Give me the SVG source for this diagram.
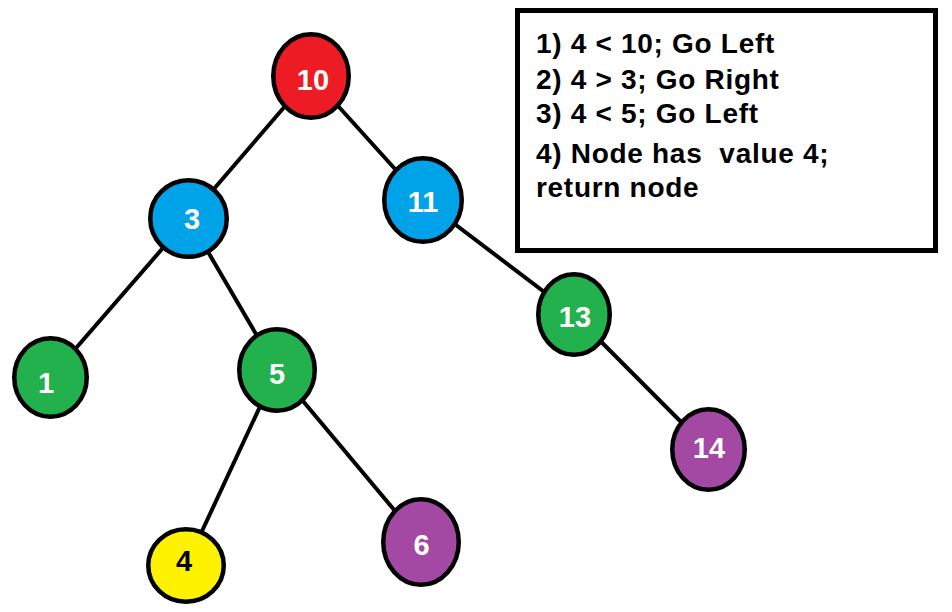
<svg xmlns="http://www.w3.org/2000/svg" width="952" height="612" viewBox="0 0 952 612">
  <style>
    .edge { stroke: #000; stroke-width: 4; }
    .node { stroke: #000; stroke-width: 4.5; }
    .red { fill: #ED1C24; }
    .blue { fill: #00A2E8; }
    .green { fill: #22B14C; }
    .purple { fill: #A349A4; }
    .yellow { fill: #FFF200; }
    .label { font-family: "Liberation Sans", Arial, sans-serif; font-weight: bold; font-size: 29px; fill: #fff; text-anchor: middle; }
    .dark { fill: #000; }
    .note { font-family: "Liberation Sans", Arial, sans-serif; font-weight: bold; font-size: 28px; fill: #000; letter-spacing: 0.7px; }
  </style>
  <rect width="952" height="612" fill="#fff"/>

  <!-- tree edges -->
  <g id="edges">
    <line class="edge" x1="311" y1="76" x2="188.5" y2="218.5"/>
    <line class="edge" x1="311" y1="76" x2="423" y2="200"/>
    <line class="edge" x1="188.5" y1="218.5" x2="50.5" y2="377.5"/>
    <line class="edge" x1="188.5" y1="218.5" x2="277" y2="370"/>
    <line class="edge" x1="423" y1="200" x2="574" y2="314.5"/>
    <line class="edge" x1="277" y1="370" x2="186" y2="565.5"/>
    <line class="edge" x1="277" y1="370" x2="421" y2="542"/>
    <line class="edge" x1="574" y1="314.5" x2="708.5" y2="449.5"/>
  </g>

  <g id="n10">
    <ellipse class="node red" cx="311" cy="76" rx="37.75" ry="41.75"/>
    <text class="label" x="313" y="89.5">10</text>
  </g>
  <g id="n3">
    <ellipse class="node blue" cx="188.5" cy="218.5" rx="38.25" ry="38.25"/>
    <text class="label" x="192" y="228.5">3</text>
  </g>
  <g id="n11">
    <ellipse class="node blue" cx="423" cy="200" rx="38.75" ry="41.75"/>
    <text class="label" x="423" y="211.5">11</text>
  </g>
  <g id="n1">
    <ellipse class="node green" cx="50.5" cy="377.5" rx="36.25" ry="39.25"/>
    <text class="label" x="46" y="392.5">1</text>
  </g>
  <g id="n5">
    <ellipse class="node green" cx="277" cy="370" rx="37.75" ry="40.75"/>
    <text class="label" x="277" y="383.5">5</text>
  </g>
  <g id="n13">
    <ellipse class="node green" cx="574" cy="314.5" rx="35.75" ry="40.25"/>
    <text class="label" x="575" y="326.5">13</text>
  </g>
  <g id="n14">
    <ellipse class="node purple" cx="708.5" cy="449.5" rx="36.25" ry="40.25"/>
    <text class="label" x="709" y="458">14</text>
  </g>
  <g id="n4">
    <ellipse class="node yellow" cx="186" cy="565.5" rx="37.75" ry="36.25"/>
    <text class="label dark" x="184" y="570.5">4</text>
  </g>
  <g id="n6">
    <ellipse class="node purple" cx="421" cy="542" rx="37.75" ry="42.75"/>
    <text class="label" x="421.5" y="554.5">6</text>
  </g>

  <!-- search steps -->
  <g id="steps">
    <rect x="517.5" y="10.5" width="418" height="240" fill="#fff" stroke="#000" stroke-width="5"/>
    <text class="note" x="536" y="53">1) 4 &lt; 10; Go Left</text>
    <text class="note" x="536" y="89">2) 4 &gt; 3; Go Right</text>
    <text class="note" x="536" y="123">3) 4 &lt; 5; Go Left</text>
    <text class="note" x="536" y="163" xml:space="preserve">4) Node has  value 4;</text>
    <text class="note" x="536" y="197">return node</text>
  </g>
</svg>
